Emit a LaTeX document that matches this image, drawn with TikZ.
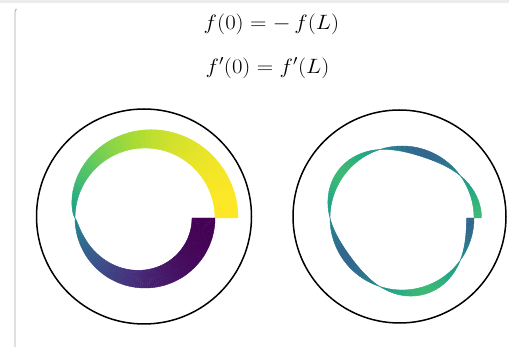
\documentclass[tikz,border=0pt]{standalone}
\usepackage{amsmath}
\usepackage{graphicx}
\definecolor{vir0}{RGB}{68,1,84}
\definecolor{vir1}{RGB}{71,44,122}
\definecolor{vir2}{RGB}{59,82,139}
\definecolor{vir3}{RGB}{44,114,142}
\definecolor{vir4}{RGB}{33,145,140}
\definecolor{vir5}{RGB}{39,173,129}
\definecolor{vir6}{RGB}{92,200,99}
\definecolor{vir7}{RGB}{170,220,50}
\definecolor{vir8}{RGB}{253,231,37}
\tikzset{
  frame/.style={draw=black,line width=1.5pt},
  eqn/.style={inner sep=0pt,font=\fontsize{21}{24}\selectfont},
  seg/.style={fill=segc,draw=segc,line width=0.4pt},
}
\begin{document}
\begin{tikzpicture}[x=1pt,y=-1pt]
\useasboundingbox (0,0) rectangle (509,347);
\fill[gray!15] (0,0) rectangle (509,3);
\draw[gray!70,line width=0.8pt] (16.5,9) .. controls (15.2,10) .. (15,13) -- (15,347);
\node[eqn] (eq1) at (271.5,24) {\scalebox{1.1}[1]{$f(0) = -\,f(L)$}};
\node[eqn] (eq2) at (267.5,68) {\scalebox{1.1}[1]{$f'(0) = f'(L)$}};
\node[frame,circle,minimum size=215pt,inner sep=0pt] (c1) at (144,216.5) {};
\node[frame,circle,minimum size=213pt,inner sep=0pt] (c2) at (399.5,216.5) {};
% left ribbon: f = A sign(c)|c|^0.7, c = cos(a/2)
\foreach \i in {0,...,179}{
  \pgfmathsetmacro{\aa}{2*\i}
  \pgfmathsetmacro{\ab}{2*\i+2}
  \pgfmathsetmacro{\am}{2*\i+1}
  \pgfmathsetmacro{\ca}{cos(\aa/2)}
  \pgfmathsetmacro{\cb}{cos(\ab/2)}
  \pgfmathsetmacro{\cm}{cos(\am/2)}
  \pgfmathsetmacro{\fa}{ifthenelse(\ca<0,-1,1)*(abs(\ca)+0.0001)^0.7}
  \pgfmathsetmacro{\fb}{ifthenelse(\cb<0,-1,1)*(abs(\cb)+0.0001)^0.7}
  \pgfmathsetmacro{\fm}{ifthenelse(\cm<0,-1,1)*(abs(\cm)+0.0001)^0.7}
  \pgfmathsetmacro{\fa}{23*\fa}
  \pgfmathsetmacro{\fb}{23*\fb}
  \pgfmathsetmacro{\tv}{min(max((\fm+1)/2,0),1)}
  \pgfmathsetmacro{\sv}{8*\tv}
  \pgfmathtruncatemacro{\kA}{min(floor(\sv),7)}
  \pgfmathtruncatemacro{\kB}{\kA+1}
  \pgfmathsetmacro{\pc}{100*(1-(\sv-\kA))}
  \colorlet{segc}{vir\kA!\pc!vir\kB}
  \filldraw[seg] ({145+70*cos(\aa)},{218-70*sin(\aa)}) -- ({145+(70+\fa)*cos(\aa)},{218-(70+\fa)*sin(\aa)}) -- ({145+(70+\fb)*cos(\ab)},{218-(70+\fb)*sin(\ab)}) -- ({145+70*cos(\ab)},{218-70*sin(\ab)}) -- cycle;
}
% right ribbon: f = 7.5 cos(5a/2)
\foreach \i in {0,...,179}{
  \pgfmathsetmacro{\aa}{2*\i}
  \pgfmathsetmacro{\ab}{2*\i+2}
  \pgfmathsetmacro{\am}{2*\i+1}
  \pgfmathsetmacro{\fa}{7.5*cos(5*\aa/2)}
  \pgfmathsetmacro{\fb}{7.5*cos(5*\ab/2)}
  \pgfmathsetmacro{\tv}{(8*cos(5*\am/2)/23+1)/2}
  \pgfmathsetmacro{\sv}{8*\tv}
  \pgfmathtruncatemacro{\kA}{min(floor(\sv),7)}
  \pgfmathtruncatemacro{\kB}{\kA+1}
  \pgfmathsetmacro{\pc}{100*(1-(\sv-\kA))}
  \colorlet{segc}{vir\kA!\pc!vir\kB}
  \filldraw[seg] ({402+72*cos(\aa)},{218-72*sin(\aa)}) -- ({402+(72+\fa)*cos(\aa)},{218-(72+\fa)*sin(\aa)}) -- ({402+(72+\fb)*cos(\ab)},{218-(72+\fb)*sin(\ab)}) -- ({402+72*cos(\ab)},{218-72*sin(\ab)}) -- cycle;
}
\end{tikzpicture}
\end{document}
